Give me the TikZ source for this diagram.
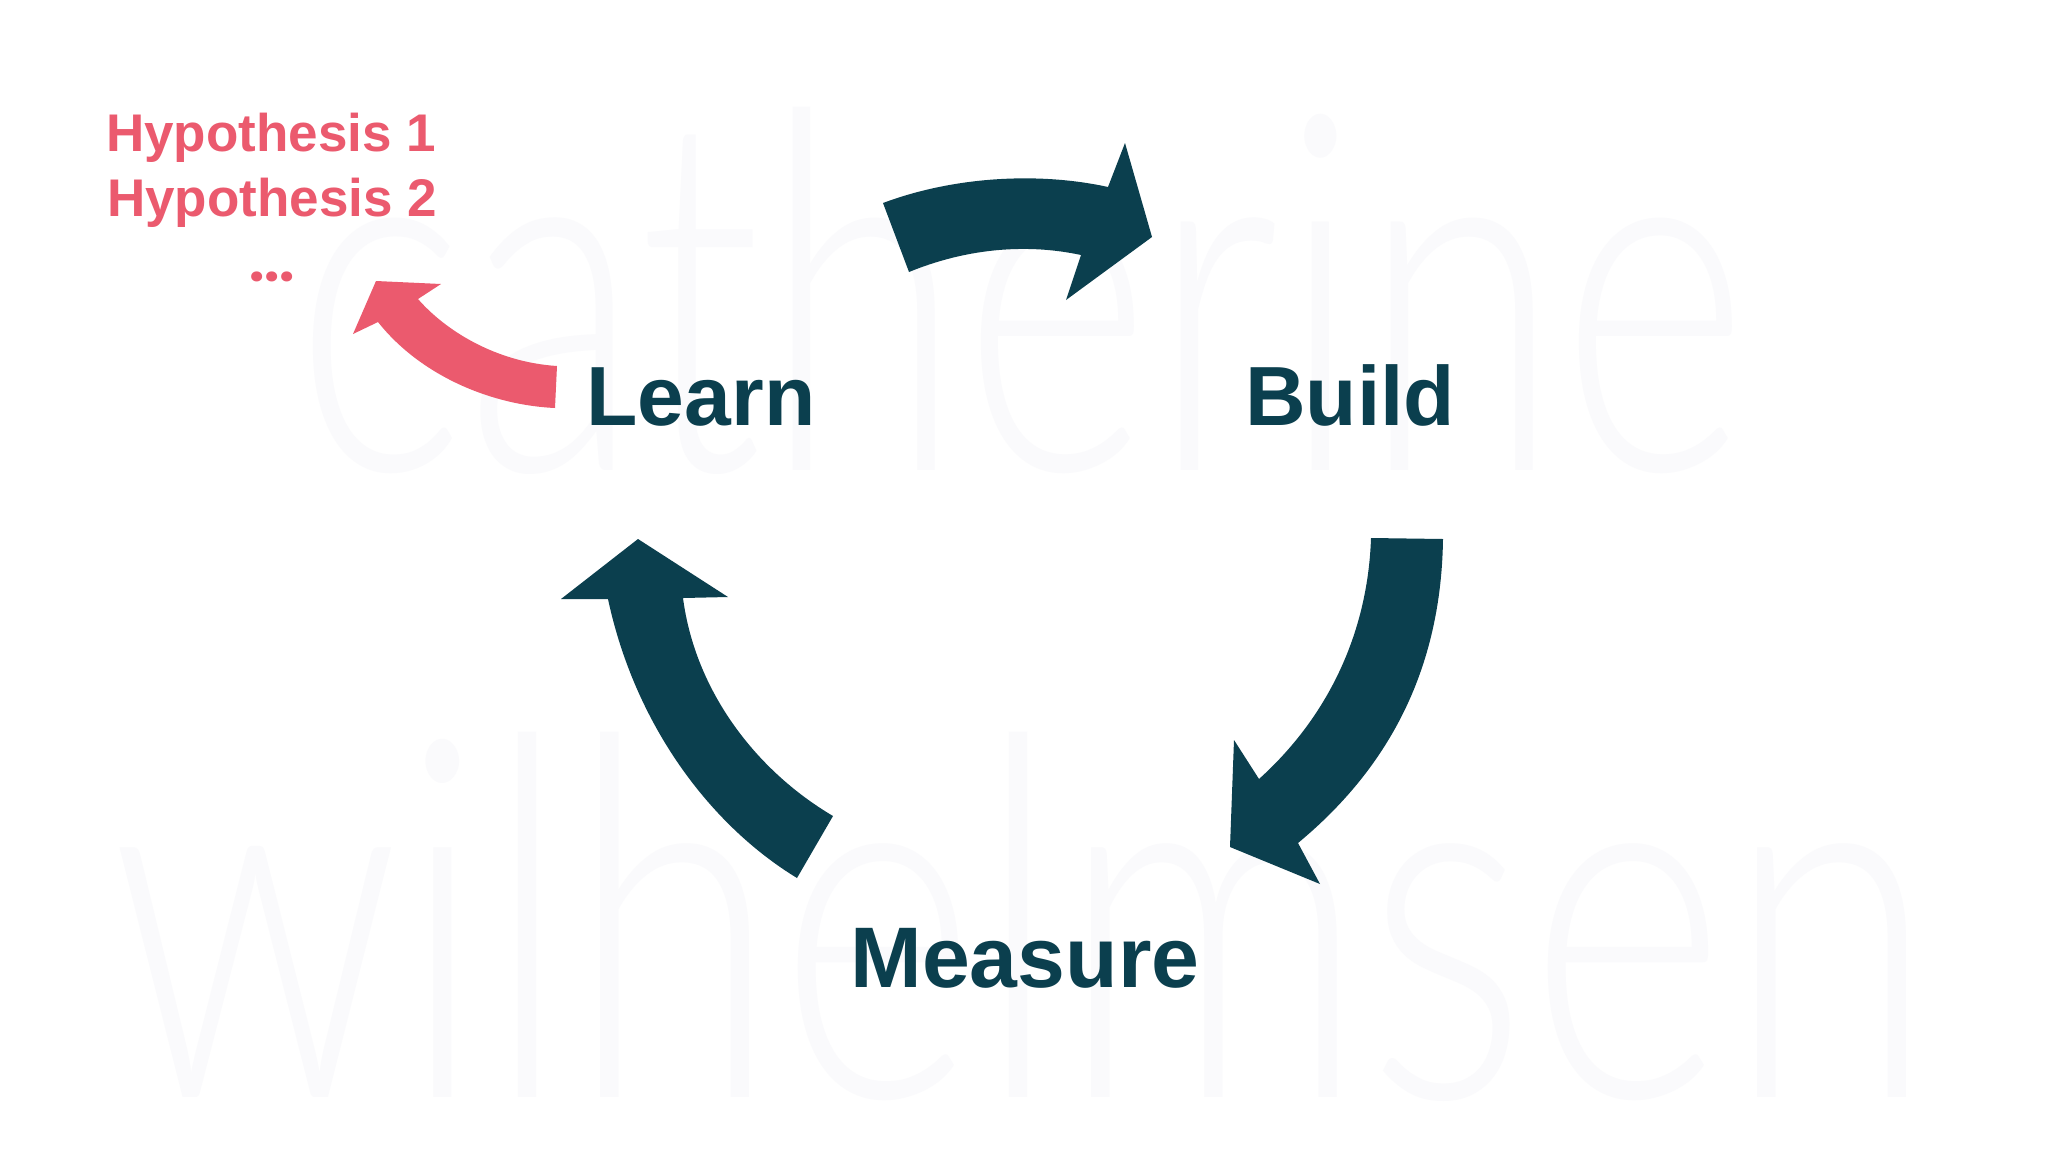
\documentclass[tikz,border=0pt]{standalone}
\usepackage{fontspec}
\usepackage{graphicx}
\setmainfont{Liberation Sans}
\newfontfamily\boldfont{Liberation Sans}[UprightFont=* Bold]
\newfontfamily\wmfont{Lato Light}
\newfontfamily\dotfont{Poppins}
\definecolor{teal}{HTML}{0B3F4E}
\definecolor{coral}{HTML}{EB5A6E}
\definecolor{wm}{HTML}{FAFAFC}
\tikzset{
  stage/.style={anchor=base, inner sep=0pt, text=teal, font=\boldfont\fontsize{84}{84}\selectfont},
  hyp/.style={anchor=base, inner sep=0pt, text=coral, font=\boldfont\fontsize{53}{53}\selectfont},
  wmtext/.style={anchor=base west, inner sep=0pt, text=wm},
  bigarrow/.style={fill=teal, draw=none},
  pinkarrow/.style={fill=coral, draw=none}
}
\begin{document}
\begin{tikzpicture}[x=1pt,y=-1pt]
\useasboundingbox[fill=white] (0,0) rectangle (2048,1152);
% watermark
\node[wmtext] (wm1) at (294,470) {\resizebox{1450pt}{362pt}{\wmfont catherine}};
\node[wmtext] (wm2) at (110,1097) {\resizebox{1824pt}{364pt}{\wmfont wilhelmsen}};
% labels
\node[stage] (learn) at (701,425) {Learn};
\node[stage] (build) at (1350,425) {Build};
\node[stage] (measure) at (1025,987) {\fontsize{86}{86}\selectfont Measure};
\node[hyp] (h1) at (271,151) {Hypothesis 1};
\node[hyp] (h2) at (272,216) {Hypothesis 2};
\node[anchor=base, inner sep=0pt, text=coral, font=\dotfont\bfseries\fontsize{54}{54}\selectfont] (dots) at (272,281) {...};
% top arrow: Learn -> Build
\fill[bigarrow] (883,203) .. controls (955,176) and (1040,172) .. (1108,187)
  -- (1125,143) -- (1152,237) -- (1066,300) -- (1081,255)
  .. controls (1030,244) and (970,247) .. (909,272) -- cycle;
% right arrow: Build -> Measure
\fill[bigarrow] (1443,539) .. controls (1441,680) and (1380,775) .. (1298,843)
  -- (1320,884) -- (1230,847) -- (1234,740) -- (1259,779)
  .. controls (1330,715) and (1368,630) .. (1371,538) -- cycle;
% left arrow: Measure -> Learn
\fill[bigarrow] (797,878) .. controls (710,825) and (635,725) .. (608,599)
  -- (561,599) -- (638,539) -- (728,597) -- (683,598)
  .. controls (695,690) and (755,770) .. (833,816) -- cycle;
% pink arrow: Learn -> hypotheses
\fill[pinkarrow] (555,408) .. controls (490,405) and (420,375) .. (378,322)
  -- (353,334) -- (376,281) -- (441,284) -- (418,299)
  .. controls (445,330) and (495,362) .. (557,366) -- cycle;
\end{tikzpicture}
\end{document}
